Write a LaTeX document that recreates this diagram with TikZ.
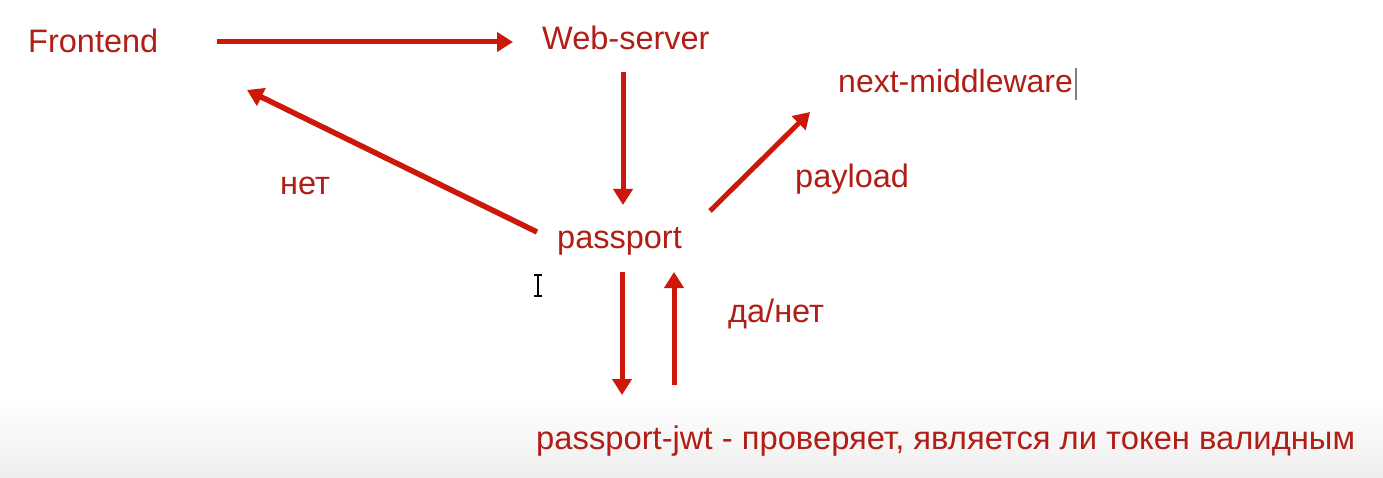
\documentclass[tikz,border=0pt]{standalone}
\usepackage{fontspec}
\setmainfont{Liberation Sans}
\usetikzlibrary{arrows.meta,calc}
\definecolor{txtred}{RGB}{176,30,22}
\definecolor{arrred}{RGB}{204,24,10}
\definecolor{bgbot}{RGB}{238,238,238}
\begin{document}
\begin{tikzpicture}[x=1pt,y=-1pt,
  lbl/.style={anchor=base west,inner sep=0pt,text=txtred,font=\fontsize{32.5}{38}\selectfont},
  arr/.style={draw=arrred,line width=5pt,-{Triangle[length=16pt,width=19pt]}}]
\useasboundingbox (0,0) rectangle (1383,478);
\fill[white] (0,0) rectangle (1383,478);
\shade[top color=white,bottom color=bgbot] (0,398) rectangle (1383,478);
\node[lbl] (fe) at (28,53) {Frontend};
\node[lbl] (ws) at (542,50) {Web-server};
\node[lbl,font=\fontsize{32}{38}\selectfont] (nm) at (838,93) {next-middleware};
\node[lbl] (pl) at (795,188) {payload};
\node[lbl] (net) at (280,195) {нет};
\node[lbl] (pp) at (557,248) {passport};
\node[lbl] (dn) at (728,322) {да/нет};
\node[lbl,font=\fontsize{32.75}{38}\selectfont] (jwt) at (536,449) {passport-jwt - проверяет, является ли токен валидным};
% connectors
\draw[arr] ($(fe.base west)+(189,-11)$) -- ($(ws.base west)+(-29,-8)$);
\draw[arr] ($(ws.base west)+(81,22)$) -- ($(pp.base west)+(66,-43)$);
\draw[arr,line width=5.5pt] ($(pp.base west)+(-20,-16)$) -- ($(fe.base west)+(219,37)$);
\draw[arr] ($(pp.base west)+(153,-37)$) -- ($(nm.base west)+(-28,19)$);
\draw[arr] ($(pp.base west)+(65,24)$) -- ($(jwt.base west)+(86,-54)$);
\draw[arr] ($(jwt.base west)+(138,-64)$) -- ($(pp.base west)+(117,24)$);
% screen artefacts: text caret and mouse I-beam
\draw[gray,line width=1.5pt] ($(nm.base east)+(3,-25)$) -- ($(nm.base east)+(3,7)$);
\draw[black,line width=1.2pt] (538,275) -- (538,296) (534,275) -- (542,275) (534,296) -- (542,296);
\end{tikzpicture}
\end{document}
